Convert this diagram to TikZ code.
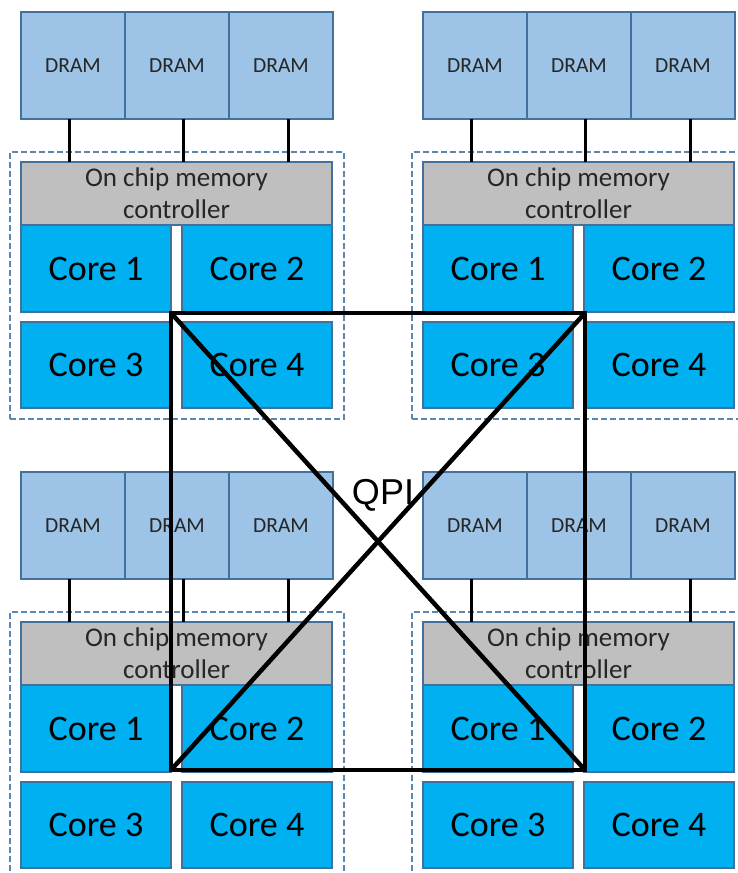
\documentclass[tikz,border=0pt]{standalone}
\usepackage{fontspec}
\setmainfont{Carlito}
\newfontfamily\qpifont{Liberation Sans}
\definecolor{dramfill}{HTML}{9DC3E6}
\definecolor{boxline}{HTML}{41719C}
\definecolor{dashline}{HTML}{5B86AE}
\definecolor{corefill}{HTML}{00B0F0}
\definecolor{ctrlfill}{HTML}{BFBFBF}
\definecolor{ctrltext}{HTML}{262626}
\begin{document}
\begin{tikzpicture}[x=1pt,y=-1pt,
  base/.style={draw=boxline,line width=2pt,inner sep=0pt,outer sep=0pt,anchor=north west},
  drambox/.style={base,fill=dramfill,minimum width=104pt,minimum height=107pt,
    text=black!85,font=\fontsize{21.5}{24}\selectfont},
  ctrlbox/.style={base,fill=ctrlfill,minimum width=311pt,minimum height=63pt,
    align=center,text=ctrltext,font=\fontsize{27}{32}\selectfont},
  corebox/.style={base,fill=corefill,minimum width=150pt,minimum height=87pt,
    text=black,font=\fontsize{36}{40}\selectfont},
  chipframe/.style={draw=dashline,line width=1.6pt,dash pattern=on 6pt off 3pt,
    inner sep=0pt,outer sep=0pt,anchor=north west,minimum width=334pt,minimum height=267pt},
  membus/.style={draw=black,line width=3pt},
  qpilink/.style={draw=black,line width=4.5pt,line join=miter},
]
\useasboundingbox (0,0) rectangle (738,873);

% four processor sockets, each with its DRAM banks and memory controller
\foreach \n/\dx/\dy in {tl/0/0, tr/402/0, bl/0/460, br/402/460}{
  \node[chipframe] (frame-\n) at ({10+\dx},{152+\dy}) {};
  \node[drambox] (dram-\n-1) at ({21+\dx},{12+\dy}) {DRAM};
  \node[drambox] (dram-\n-2) at ({125+\dx},{12+\dy}) {DRAM};
  \node[drambox] (dram-\n-3) at ({229+\dx},{12+\dy}) {DRAM};
  \node[ctrlbox] (ctrl-\n) at ({21+\dx},{162+\dy}) {On chip memory\\controller};
  \foreach \i/\s in {1/-4,2/6,3/7}{
    \draw[membus] ([xshift=\s pt]dram-\n-\i.south) -- ([xshift=\s pt]dram-\n-\i.south |- ctrl-\n.north);
  }
  \node[corebox] (core-\n-1) at ({21+\dx},{225+\dy}) {Core 1};
  \node[corebox] (core-\n-2) at ({182+\dx},{225+\dy}) {Core 2};
  \node[corebox,minimum height=86pt] (core-\n-3) at ({21+\dx},{322+\dy}) {Core 3};
  \node[corebox,minimum height=86pt] (core-\n-4) at ({182+\dx},{322+\dy}) {Core 4};
}

% QPI interconnect: every socket linked to every other one
\coordinate (qa) at (171,313);
\coordinate (qb) at (585,313);
\coordinate (qc) at (585,770);
\coordinate (qd) at (171,770);
\draw[qpilink] (qa) -- (qb) -- (qc) -- (qd) -- cycle;
\draw[qpilink] (qa) -- (qc);
\draw[qpilink] (qb) -- (qd);
\node[font=\qpifont\fontsize{36}{40}\selectfont,inner sep=0pt] (qpi) at (383,495) {QPI};
\end{tikzpicture}
\end{document}
